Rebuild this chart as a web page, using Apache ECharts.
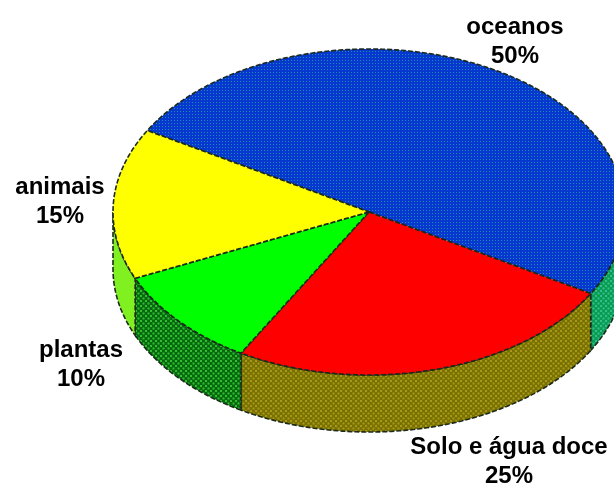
<!DOCTYPE html>
<html><head><meta charset="utf-8">
<style>html,body{margin:0;padding:0;background:#fff}#c{width:614px;height:488px}</style>
<script src="https://cdn.jsdelivr.net/npm/echarts@6/dist/echarts.min.js"></script>
</head><body><div id="c"></div>
<script>
var names = ['oceanos','Solo e água doce','plantas','animais'];
var values = [50,25,10,15];
var topColors = ['#0638d0','#ff0000','#00ff00','#ffff00'];
var topDots = ['#1a8cb0',null,null,null];
var sideBase = ['#0a9a50','#787000','#086810','#80f020'];
var sideDots = ['#30c090','#a89a18','#30c030',null];
var labelX = [515,509,81,60];
var labelY = [42,462,365,202];
var cx=369, cy=212, rx=256, ry=163, depth=57, startDeg=150;

function tile(base,dot,stripes){
  if(!dot) return base;
  var s=stripes?6:5, c=document.createElement('canvas'); c.width=s; c.height=s;
  var g=c.getContext('2d'); g.fillStyle=base; g.fillRect(0,0,s,s);
  g.fillStyle=dot;
  if(stripes){ g.fillRect(0,0,1,1); g.fillRect(3,3,1,1); g.fillRect(0,3,1,1); g.fillRect(3,0,1,1);}
  else { g.fillRect(0,0,2,2); g.fillRect(2.5,2.5,2,2);}
  return {image:c,repeat:'repeat'};
}
function pt(deg,dy){var a=deg*Math.PI/180;return [cx+rx*Math.cos(a),cy+(dy||0)-ry*Math.sin(a)];}
function arc(from,to,dy){var p=[],n=Math.max(2,Math.ceil(Math.abs(to-from)));
  for(var i=0;i<=n;i++)p.push(pt(from+(to-from)*i/n,dy));return p;}
var total=values.reduce(function(a,b){return a+b;},0);
var edge={stroke:'#1c2a1c',lineWidth:1.6,lineDash:[5,2]};

function renderSide(params,api){
  var i=params.dataIndex, before=0;
  for(var k=0;k<i;k++)before+=values[k];
  var a0=startDeg-before/total*360, a1=a0-api.value(0)/total*360;
  var from=Math.min(a0,0), to=Math.max(a1,-180);
  var ch=[];
  if(from>to){
    var pts=arc(from,to,0).concat(arc(to,from,depth));
    ch.push({type:'polygon',shape:{points:pts},style:Object.assign({fill:tile(sideBase[i],sideDots[i],false)},edge)});
  }
  return {type:'group',children:ch};
}
function renderTop(params,api){
  var i=params.dataIndex, before=0;
  for(var k=0;k<i;k++)before+=values[k];
  var a0=startDeg-before/total*360, a1=a0-api.value(0)/total*360;
  var pts=[[cx,cy]].concat(arc(a0,a1,0));
  return {type:'group',children:[
    {type:'polygon',shape:{points:pts},style:Object.assign({fill:tile(topColors[i],topDots[i],true)},edge)},
    {type:'text',x:labelX[i],y:labelY[i],style:{
      text:names[i]+'\n'+api.value(0)+'%',fill:'#000',font:'bold 24px "Liberation Sans", Arial, sans-serif',
      align:'center',verticalAlign:'middle',lineHeight:29}}
  ]};
}
var chart=echarts.init(document.getElementById('c'),null,{renderer:'canvas'});
chart.setOption({
  animation:false,backgroundColor:'#fff',
  series:[
    {type:'custom',coordinateSystem:'none',renderItem:renderSide,data:values,clip:false},
    {type:'custom',coordinateSystem:'none',renderItem:renderTop,data:values,clip:false}
  ]
});
</script></body></html>
